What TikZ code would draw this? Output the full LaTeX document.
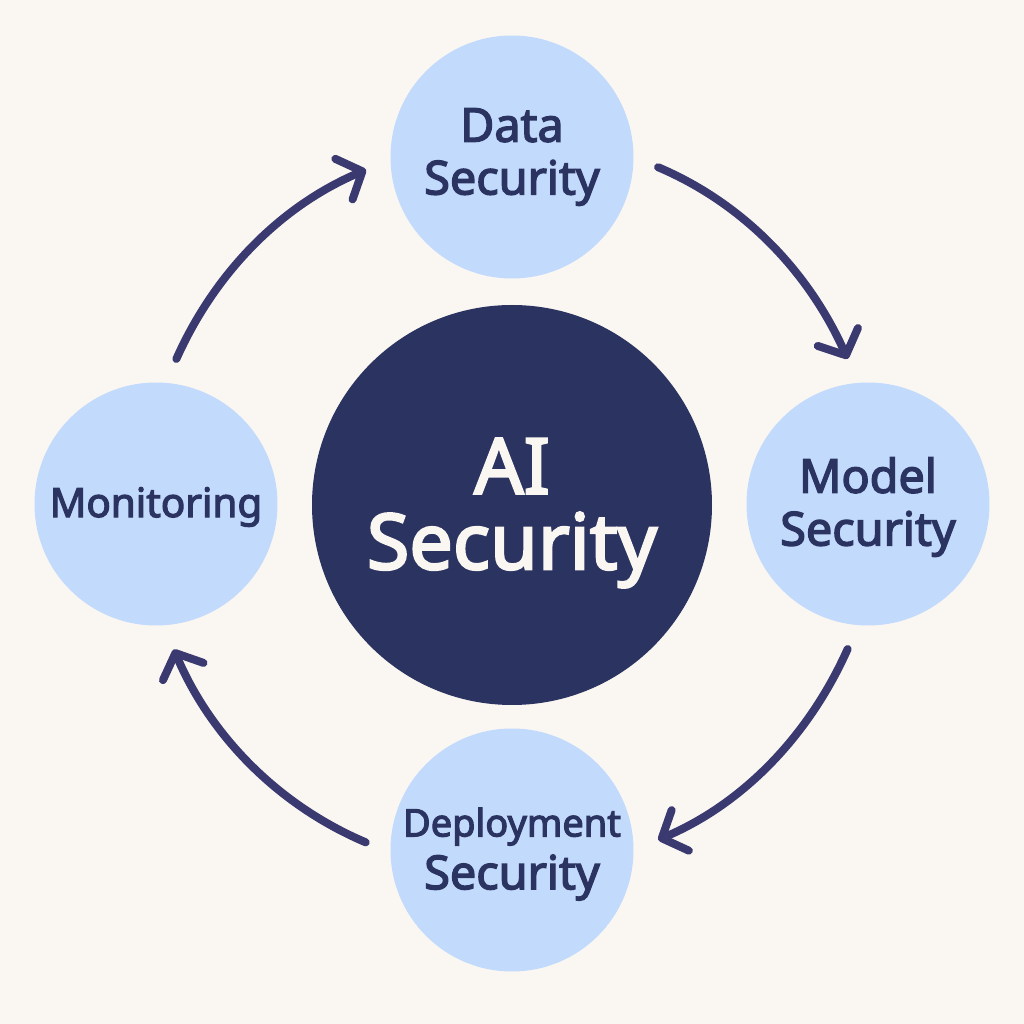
\documentclass[tikz,border=0pt]{standalone}
\usepackage{fontspec}
\setmainfont[FakeBold=3]{Noto Sans}
\usetikzlibrary{arrows.meta, positioning}
\definecolor{pagebg}{HTML}{FAF7F2}
\definecolor{lightblue}{HTML}{C2DAFC}
\definecolor{darknavy}{HTML}{2B3360}
\definecolor{arrowcol}{HTML}{3B3A70}
\tikzset{
  stage/.style={circle, fill=lightblue, minimum size=2.43cm, inner sep=0pt, outer sep=0.25cm},
  stagetext/.style={text=darknavy, align=center, inner sep=0pt, font=\fontsize{13.3}{15}\selectfont},
  hub/.style={circle, fill=darknavy, minimum size=4cm, inner sep=0pt},
  hubtext/.style={text=pagebg, align=center, inner sep=0pt, font=\fontsize{22}{21.5}\selectfont},
  flow/.style={-{Straight Barb[length=0.2cm, width=0.44cm, round]}, draw=arrowcol, line width=0.08cm, line cap=round, looseness=0.89}
}
\begin{document}
\begin{tikzpicture}
  \fill[pagebg] (0,0) rectangle (10.24,10.24);
  \useasboundingbox (0,0) rectangle (10.24,10.24);
  \node[hub, label={[hubtext, yshift=-0.08cm]center:{AI\\Security}}] (ai) at (5.12,5.19) {};
  \node[stage, label={[stagetext]center:{Data\\Security}}] (data) at (5.12,8.67) {};
  \node[stage, label={[stagetext, yshift=-0.03cm]center:{Model\\Security}}] (model) at (8.68,5.20) {};
  \node[stage, label={[stagetext, yshift=-0.04cm]center:{{\fontsize{10.8}{15}\selectfont Deployment}\\Security}}] (deploy) at (5.12,1.74) {};
  \node[stage, label={[stagetext, yshift=-0.03cm, font=\fontsize{11.5}{14}\selectfont]center:Monitoring}] (monitor) at (1.56,5.20) {};

  \path
  (data.-4) edge [flow, out=-23, in=114] (model.98)
  (model.-98) edge [flow, out=-114, in=23] (deploy.4)
  (deploy.177) edge [flow, out=157, in=-67] (monitor.-83)
  (monitor.82) edge [flow, out=66, in=-157] (data.185)
  ;
\end{tikzpicture}
\end{document}
